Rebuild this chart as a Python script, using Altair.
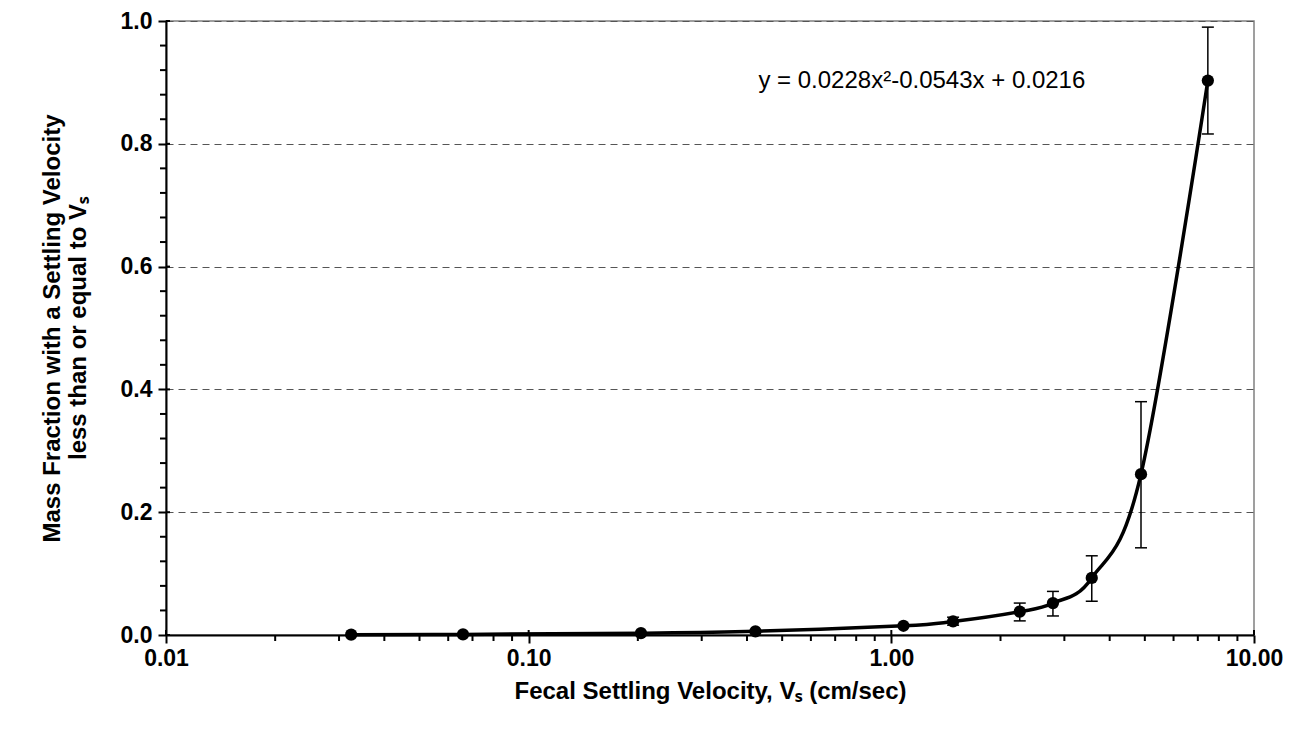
import altair as alt
import pandas as pd

# data
velocity = [0.0324, 0.0659, 0.204, 0.422, 1.08, 1.48, 2.26, 2.79, 3.57, 4.88, 7.46]
fraction = [0.0005, 0.001, 0.003, 0.006, 0.015, 0.022, 0.038, 0.052, 0.093, 0.262, 0.903]

err_velocity = [1.48, 2.26, 2.79, 3.57, 4.88, 7.46]
err_low = [0.016, 0.023, 0.031, 0.055, 0.142, 0.816]
err_high = [0.029, 0.052, 0.071, 0.129, 0.380, 0.990]

x_major = [0.01, 0.1, 1, 10]
x_minor = [0.02, 0.03, 0.04, 0.05, 0.06, 0.07, 0.08, 0.09,
           0.2, 0.3, 0.4, 0.5, 0.6, 0.7, 0.8, 0.9,
           2, 3, 4, 5, 6, 7, 8, 9]
y_major = [0.0, 0.2, 0.4, 0.6, 0.8, 1.0]
y_minor = [0.04, 0.08, 0.12, 0.16, 0.24, 0.28, 0.32, 0.36, 0.44, 0.48, 0.52, 0.56,
           0.64, 0.68, 0.72, 0.76, 0.84, 0.88, 0.92, 0.96]

equation = "y = 0.0228x²-0.0543x + 0.0216"
eq_x = [0.43]
eq_y = [0.903]

W, H = 1088, 614

pts = pd.DataFrame({"v": velocity, "f": fraction})
errs = pd.DataFrame({"v": err_velocity, "lo": err_low, "hi": err_high})
ann = pd.DataFrame({"v": eq_x, "f": eq_y, "t": [equation]})
xmin_df = pd.DataFrame({"v": x_minor})
xmaj_df = pd.DataFrame({"v": x_major})
ymin_df = pd.DataFrame({"f": y_minor})
ymaj_df = pd.DataFrame({"f": y_major})

FONT = "Liberation Sans"
FS = 23
TFS = 24

xscale = alt.Scale(type="log", domain=[0.01, 10], nice=False)
yscale = alt.Scale(domain=[0, 1], nice=False, zero=False)

xaxis = alt.Axis(
    values=x_major, format=".2f",
    title="Fecal Settling Velocity, Vₛ (cm/sec)",
    grid=False,
    domainColor="black", domainWidth=2,
    tickColor="black", tickWidth=2, tickSize=8,
    labelFont=FONT, labelFontSize=FS, labelFontWeight="bold", labelColor="black",
    labelPadding=4, labelOverlap=False, labelFlush=False,
    titleFont=FONT, titleFontSize=TFS, titleFontWeight="bold", titleColor="black",
    titlePadding=9,
)

yaxis = alt.Axis(
    values=y_major, format=".1f",
    title=["Mass Fraction with a Settling Velocity", "less than or equal  to Vₛ"],
    grid=True,
    gridColor="#555555", gridWidth=1, gridDash=[7, 5],
    domainColor="black", domainWidth=2,
    tickColor="black", tickWidth=2, tickSize=8,
    labelFont=FONT, labelFontSize=FS, labelFontWeight="bold", labelColor="black",
    labelPadding=6, labelOverlap=False, labelFlush=False,
    titleFont=FONT, titleFontSize=TFS, titleFontWeight="bold", titleColor="black",
    titlePadding=30,
)

base = alt.Chart(pts)

line = base.mark_line(interpolate="cardinal", color="black", strokeWidth=3.5).encode(
    x=alt.X("v:Q", scale=xscale, axis=xaxis),
    y=alt.Y("f:Q", scale=yscale, axis=yaxis),
)

# minor / inner tick segments
xminor_ticks = alt.Chart(xmin_df).mark_tick(color="black", orient="vertical", size=6, thickness=2, opacity=1).encode(
    x="v:Q", y=alt.value(H + 3)
)
xmajor_inner = alt.Chart(xmaj_df).mark_tick(color="black", orient="vertical", size=5, thickness=2, opacity=1).encode(
    x="v:Q", y=alt.value(H - 2.5)
)
yminor_ticks = alt.Chart(ymin_df).mark_tick(color="black", orient="horizontal", size=6, thickness=2, opacity=1).encode(
    y="f:Q", x=alt.value(-3)
)
ymajor_inner = alt.Chart(ymaj_df).mark_tick(color="black", orient="horizontal", size=4, thickness=2, opacity=1).encode(
    y="f:Q", x=alt.value(2)
)

rules = alt.Chart(errs).mark_rule(color="black", strokeWidth=1.5).encode(
    x="v:Q", y="lo:Q", y2="hi:Q"
)
cap_lo = alt.Chart(errs).mark_tick(color="black", orient="horizontal", size=12, thickness=1.5, opacity=1).encode(
    x="v:Q", y="lo:Q"
)
cap_hi = alt.Chart(errs).mark_tick(color="black", orient="horizontal", size=12, thickness=1.5, opacity=1).encode(
    x="v:Q", y="hi:Q"
)

points = base.mark_circle(color="black", size=150, opacity=1).encode(x="v:Q", y="f:Q")

text = alt.Chart(ann).mark_text(align="left", baseline="middle", font=FONT, fontSize=24, color="black").encode(
    x="v:Q", y="f:Q", text="t:N"
)

chart = alt.layer(line, xminor_ticks, xmajor_inner, yminor_ticks, ymajor_inner,
                  rules, cap_lo, cap_hi, points, text).properties(
    width=W, height=H,
    autosize=alt.AutoSizeParams(type="none"),
    padding={"left": 158, "top": 13, "right": 38, "bottom": 87},
    background="white",
).configure_view(stroke="#808080", strokeWidth=1.5)

chart.save("out.html", embed_options={"renderer": "svg", "actions": False})
